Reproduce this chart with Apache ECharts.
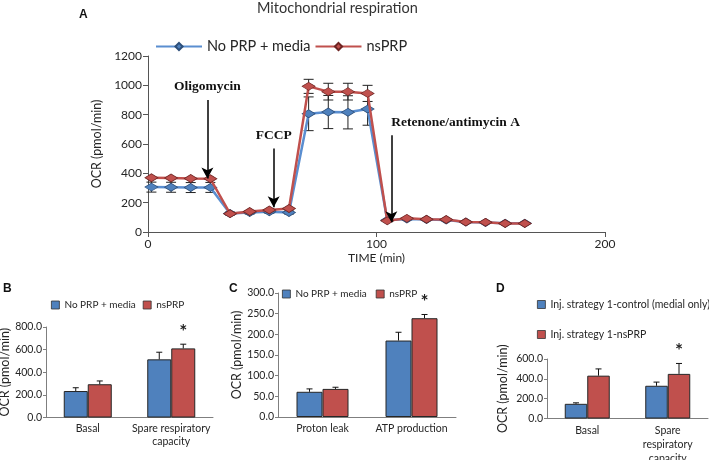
<!DOCTYPE html>
<html>
<head>
<meta charset="utf-8">
<script src="https://cdn.jsdelivr.net/npm/echarts@6/dist/echarts.min.js"></script>
<style>
  html, body { margin: 0; padding: 0; background: #fff; }
  #chart { width: 709px; height: 460px; }
</style>
</head>
<body>
<div id="chart"></div>
<script>
// ---- panel A : OCR trace ----
const timeMin = [1.5, 10.1, 18.7, 27.3, 35.9, 44.5, 53.1, 61.7, 70.3, 78.9, 87.5, 96.1, 104.7, 113.3, 121.9, 130.5, 139.1, 147.7, 156.3, 164.9];
const ocrCtrl = [306, 305, 303, 304, 126, 133, 138, 133, 806, 818, 816, 838, 80, 88, 85, 82, 68, 65, 60, 60];
const ocrCtrlErr = [34, 34, 34, 34, 10, 10, 10, 10, 115, 113, 113, 110, 0, 0, 0, 0, 0, 0, 0, 0];
const ocrPrp = [370, 368, 365, 363, 125, 140, 150, 160, 993, 957, 957, 945, 76, 93, 87, 85, 68, 66, 58, 58];
const ocrPrpErr = [0, 0, 0, 0, 0, 0, 0, 0, 48, 57, 57, 55, 0, 0, 0, 0, 0, 0, 0, 0];
// injection arrows: label, time, arrow from / to (OCR units)
const injections = [
  ['Oligomycin', 26, 900, 365],
  ['FCCP', 55, 570, 168],
  ['Retenone/antimycin A', 106.5, 660, 66]
];

// ---- panel B ----
const catsB = ['Basal', 'Spare respiratory\ncapacity'];
const ctrlB = [234, 514];
const ctrlErrB = [29, 63];
const prpB = [294, 611];
const prpErrB = [29, 37];
const sigB = [0, 1];

// ---- panel C ----
const catsC = ['Proton leak', 'ATP production'];
const ctrlC = [61, 185];
const ctrlErrC = [7, 20];
const prpC = [68, 239];
const prpErrC = [4, 9];
const sigC = [0, 1];

// ---- panel D ----
const catsD = ['Basal', 'Spare\nrespiratory\ncapacity'];
const ctrlD = [148, 330];
const ctrlErrD = [10, 37];
const prpD = [432, 450];
const prpErrD = [68, 105];
const sigD = [0, 1];

const BLUE = '#4f81bd';
const RED = '#c0504d';
const SANS = 'Lato, "Open Sans", sans-serif';
const txt = '#262626';

const chart = echarts.init(document.getElementById('chart'));

// vertical error bars for the trace
function traceErr(params, api) {
  const e = api.value(2);
  if (!e) return null;
  const lo = api.coord([api.value(0), api.value(1) - e]);
  const hi = api.coord([api.value(0), api.value(1) + e]);
  const st = { stroke: '#222', lineWidth: 1 };
  return {
    type: 'group',
    children: [
      { type: 'line', shape: { x1: lo[0], y1: lo[1], x2: hi[0], y2: hi[1] }, style: st },
      { type: 'line', shape: { x1: lo[0] - 5, y1: lo[1], x2: lo[0] + 5, y2: lo[1] }, style: st },
      { type: 'line', shape: { x1: hi[0] - 5, y1: hi[1], x2: hi[0] + 5, y2: hi[1] }, style: st }
    ]
  };
}

// upper error bar (+ optional asterisk) on grouped bars
function barErr(offset) {
  return function (params, api) {
    const base = api.coord([api.value(0), api.value(1)]);
    const top = api.coord([api.value(0), api.value(1) + api.value(2)]);
    const x = base[0] + offset;
    const st = { stroke: '#111', lineWidth: 1 };
    const kids = [
      { type: 'line', shape: { x1: x, y1: base[1], x2: x, y2: top[1] }, style: st },
      { type: 'line', shape: { x1: x - 3, y1: top[1], x2: x + 3, y2: top[1] }, style: st }
    ];
    if (api.value(3)) {
      kids.push({ type: 'text', x: x, y: top[1] - 3,
        style: { text: '*', fill: '#222', font: 'bold 19px ' + SANS, align: 'center', verticalAlign: 'bottom' } });
    }
    return { type: 'group', children: kids };
  };
}

function zip(a, b) { return a.map((v, i) => [a[i], b[i]]); }
function errData(vals, errs, sig) { return vals.map((v, i) => [i, v, errs[i], sig ? sig[i] : 0]); }

const catAxis = (idx, cats, lh) => ({
  type: 'category', gridIndex: idx, data: cats,
  axisLine: { lineStyle: { color: '#7f7f7f' } },
  axisTick: { show: false },
  axisLabel: { interval: 0, color: txt, fontSize: 10.5, fontFamily: SANS, margin: 5, lineHeight: lh }
});
const valAxis = (idx, max, step, gap) => ({
  type: 'value', gridIndex: idx, min: 0, max: max, interval: step,
  name: 'OCR (pmol/min)', nameLocation: 'middle', nameGap: gap,
  nameTextStyle: { color: txt, fontSize: 12.5, fontFamily: SANS },
  axisLine: { show: true, lineStyle: { color: '#7f7f7f' } },
  axisTick: { show: true, length: 3, lineStyle: { color: '#7f7f7f' } },
  splitLine: { show: false },
  axisLabel: { color: txt, fontSize: 10.5, fontFamily: SANS, margin: 4, formatter: v => v.toFixed(1) }
});
const rectItem = (name, color) => ({ name: name, icon: 'rect', itemStyle: { color: color, borderColor: '#333', borderWidth: 0.8 } });
const barSeries = (name, idx, data, color, bw) => ({
  name: name, type: 'bar', xAxisIndex: idx, yAxisIndex: idx, data: data,
  barWidth: bw, barGap: '0%', silent: true,
  itemStyle: { color: color, borderColor: '#262626', borderWidth: 1 }
});
const errSeries = (idx, data, offset) => ({
  type: 'custom', xAxisIndex: idx, yAxisIndex: idx, silent: true, z: 5,
  renderItem: barErr(offset), encode: { x: 0, y: 1 }, data: data
});
const panelTag = (t, x, y) => ({ text: t, left: x, top: y, padding: 0,
  textStyle: { fontSize: 12, fontWeight: 'bold', color: '#111', fontFamily: '"Liberation Sans", Arial' } });

const option = {
  animation: false,
  backgroundColor: '#fff',
  title: [
    { text: 'Mitochondrial respiration', left: 257, top: 1, padding: 0,
      textStyle: { fontSize: 14.5, fontWeight: 'normal', color: '#333', fontFamily: SANS } },
    panelTag('A', 79, 9),
    panelTag('B', 3, 283),
    panelTag('C', 229, 283),
    panelTag('D', 496, 283)
  ],
  legend: [
    { data: ['No PRP + media', 'nsPRP'], left: 155, top: 39, padding: 0, itemWidth: 46, itemHeight: 9, itemGap: 4,
      textStyle: { fontSize: 14.5, color: txt, fontFamily: SANS }, selectedMode: false },
    { data: [rectItem('No PRP + media', BLUE), rectItem('nsPRP', RED)], left: 51, top: 300, padding: 0,
      itemWidth: 8, itemHeight: 8, itemGap: 7, selectedMode: false,
      textStyle: { fontSize: 10, color: txt, fontFamily: SANS } },
    { data: [rectItem('No PRP + media', BLUE), rectItem('nsPRP', RED)], left: 282, top: 289, padding: 0,
      itemWidth: 8, itemHeight: 8, itemGap: 9, selectedMode: false,
      textStyle: { fontSize: 10, color: txt, fontFamily: SANS } },
    { data: [rectItem('Inj. strategy 1-control (medial only)', BLUE), rectItem('Inj. strategy 1-nsPRP', RED)],
      orient: 'vertical', left: 537, top: 299, padding: 0, itemWidth: 8, itemHeight: 8, itemGap: 19, selectedMode: false,
      textStyle: { fontSize: 10.5, color: txt, fontFamily: SANS } }
  ],
  grid: [
    { left: 148, top: 56, width: 457, height: 176, outerBoundsMode: 'none' },
    { left: 46, top: 327, width: 167, height: 90.5, outerBoundsMode: 'none' },
    { left: 278, top: 293, width: 178, height: 124, outerBoundsMode: 'none' },
    { left: 547, top: 359, width: 161, height: 59.5, outerBoundsMode: 'none' }
  ],
  xAxis: [
    { type: 'value', gridIndex: 0, min: 0, max: 200, interval: 100,
      name: 'TIME (min)', nameLocation: 'middle', nameGap: 20,
      nameTextStyle: { color: txt, fontSize: 12, fontFamily: SANS },
      axisLine: { lineStyle: { color: '#555' } },
      axisTick: { length: 5, lineStyle: { color: '#555' } },
      splitLine: { show: false },
      axisLabel: { color: txt, fontSize: 12, fontFamily: SANS, margin: 6 } },
    catAxis(1, catsB, 13),
    catAxis(2, catsC, 13),
    catAxis(3, catsD, 14)
  ],
  yAxis: [
    { type: 'value', gridIndex: 0, min: 0, max: 1200, interval: 200,
      name: 'OCR (pmol/min)', nameLocation: 'middle', nameGap: 43,
      nameTextStyle: { color: txt, fontSize: 12.5, fontFamily: SANS },
      axisLine: { show: true, lineStyle: { color: '#555' } },
      axisTick: { show: true, length: 5, lineStyle: { color: '#555' } },
      splitLine: { show: false },
      axisLabel: { color: txt, fontSize: 12, fontFamily: SANS, margin: 6, formatter: v => String(v) } },
    valAxis(1, 800, 200, 32),
    valAxis(2, 300, 50, 35),
    valAxis(3, 600, 200, 38)
  ],
  series: [
    { type: 'custom', xAxisIndex: 0, yAxisIndex: 0, silent: true, z: 1,
      renderItem: traceErr, encode: { x: 0, y: 1 },
      data: timeMin.map((t, i) => [t, ocrCtrl[i], ocrCtrlErr[i]]) },
    { type: 'custom', xAxisIndex: 0, yAxisIndex: 0, silent: true, z: 1,
      renderItem: traceErr, encode: { x: 0, y: 1 },
      data: timeMin.map((t, i) => [t, ocrPrp[i], ocrPrpErr[i]]) },
    { name: 'No PRP + media', type: 'line', xAxisIndex: 0, yAxisIndex: 0, z: 2,
      data: zip(timeMin, ocrCtrl), symbol: 'diamond', symbolSize: [13, 8], silent: true,
      lineStyle: { color: '#5a8ed0', width: 2.5 },
      itemStyle: { color: BLUE, borderColor: '#2d4f7a', borderWidth: 0.8 } },
    { name: 'nsPRP', type: 'line', xAxisIndex: 0, yAxisIndex: 0, z: 3,
      data: zip(timeMin, ocrPrp), symbol: 'diamond', symbolSize: [13, 8], silent: true,
      lineStyle: { color: RED, width: 2.5 },
      itemStyle: { color: RED, borderColor: '#6e2422', borderWidth: 0.8 },
      markLine: {
        silent: true, symbol: ['none', 'arrow'], symbolSize: [9, 11],
        lineStyle: { color: '#000', width: 1.5, type: 'solid' },
        label: { show: true, formatter: '{b}', position: 'start', distance: 6,
          fontFamily: '"Liberation Serif", "DejaVu Serif", serif', fontWeight: 'bold', fontSize: 13.5, color: '#111' },
        data: injections.map(d => [
          { name: d[0], coord: [d[1], d[2]],
            label: d[0].length > 12 ? { align: 'left' } : {} },
          { coord: [d[1], d[3]] }
        ])
      } },
    barSeries('No PRP + media', 1, ctrlB, BLUE, 24),
    barSeries('nsPRP', 1, prpB, RED, 24),
    errSeries(1, errData(ctrlB, ctrlErrB), -12),
    errSeries(1, errData(prpB, prpErrB, sigB), 12),
    barSeries('No PRP + media', 2, ctrlC, BLUE, 26),
    barSeries('nsPRP', 2, prpC, RED, 26),
    errSeries(2, errData(ctrlC, ctrlErrC), -13),
    errSeries(2, errData(prpC, prpErrC, sigC), 13),
    barSeries('Inj. strategy 1-control (medial only)', 3, ctrlD, BLUE, 22.5),
    barSeries('Inj. strategy 1-nsPRP', 3, prpD, RED, 22.5),
    errSeries(3, errData(ctrlD, ctrlErrD), -11.25),
    errSeries(3, errData(prpD, prpErrD, sigD), 11.25)
  ]
};
chart.setOption(option);
</script>
</body>
</html>
